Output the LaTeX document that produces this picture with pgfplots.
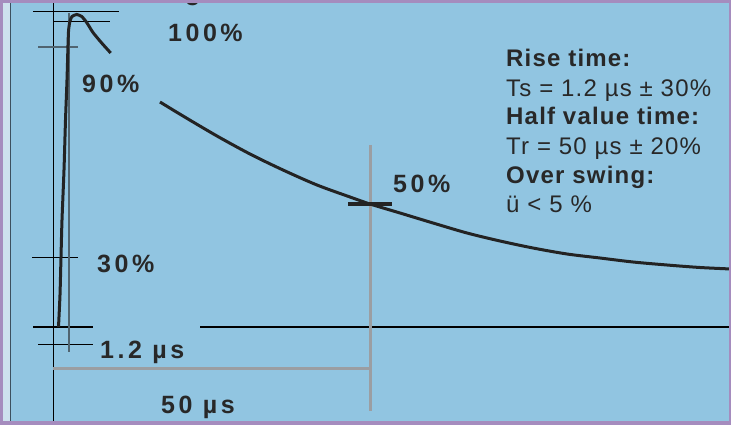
\documentclass[border=0pt]{standalone}
\usepackage{fontspec}
\setmainfont{Liberation Sans}
\newfontfamily\lblfont[LetterSpace=14]{Liberation Sans}
\newfontfamily\txtfont[LetterSpace=5]{Liberation Sans}
\usepackage{pgfplots}
\pgfplotsset{compat=1.18}
\definecolor{bgblue}{RGB}{145,197,225}
\definecolor{frame}{RGB}{165,140,190}
\definecolor{strip}{RGB}{205,225,238}
\definecolor{stripline}{RGB}{60,80,95}
\definecolor{ink}{RGB}{35,35,35}
\definecolor{txt}{RGB}{40,40,40}
\definecolor{slate}{RGB}{80,100,112}
\definecolor{lgray}{RGB}{155,158,162}
\begin{document}
\begin{tikzpicture}
\begin{axis}[at={(0,0)}, anchor=south west, width=731pt, height=425pt, scale only axis,
  xmin=0, xmax=731, ymin=0, ymax=425, y dir=reverse, hide axis, clip=false]
% background
\fill[bgblue] (axis cs:0,0) rectangle (axis cs:731,425);
\fill[strip] (axis cs:3.3,0) rectangle (axis cs:10.2,425);
\addplot[stripline, line width=1pt] coordinates {(10.7,0) (10.7,425)};
% partial letter at top
\node[anchor=base west, inner sep=0, text=txt, font=\bfseries\fontsize{25}{30}\selectfont] at (axis cs:185,1) {g};
% reference lines
\addplot[black, line width=1pt] coordinates {(53,3) (53,421)};
\addplot[black, line width=1pt] coordinates {(33,12) (119,12)};
\addplot[black, line width=1pt] coordinates {(54,22) (110,22)};
\addplot[slate, line width=1.2pt] coordinates {(38,47) (78,47)};
\addplot[black, line width=1pt] coordinates {(32,257) (78,257)};
\addplot[black, line width=2.2pt] coordinates {(33,327) (93,327)};
\addplot[black, line width=1pt] coordinates {(38,344) (93,344)};
\addplot[black, line width=1.5pt] coordinates {(200,327) (731,327)};
\addplot[slate, line width=1.2pt] coordinates {(69,13) (69,352)};
\addplot[lgray, line width=3pt] coordinates {(53,368) (370,368)};
\addplot[lgray, line width=3pt] coordinates {(370,145) (370,411)};
% waveform: rise and peak
\addplot[ink, line width=3pt, smooth, tension=0.4] coordinates {
(58.5,327) (60,295) (61,257) (62,220) (64,170) (65.5,120) (67,80) (68,45) (68.6,30)
(70,21) (72,16.5) (76.7,14.5) (81.7,16.5) (86.7,22.5) (93,32.5) (101.7,43) (110.7,53)};
% waveform: tail
\addplot[ink, line width=3pt, smooth, tension=0.5] coordinates {
(160,102) (183,116) (217,136) (250,154) (283,170) (317,185) (350,197) (370,204)
(400,213) (433,223) (467,233) (500,241) (533,248) (567,254) (600,258) (633,262)
(667,265) (700,267.5) (731,269)};
% 50% marker
\addplot[ink, line width=4pt] coordinates {(348,204) (392,204)};
% labels
\node[anchor=base west, inner sep=0, text=txt, font=\lblfont\bfseries\fontsize{25}{30}\selectfont] at (axis cs:168,42) {100\%};
\node[anchor=base west, inner sep=0, text=txt, font=\lblfont\bfseries\fontsize{25}{30}\selectfont] at (axis cs:82,93) {90\%};
\node[anchor=base west, inner sep=0, text=txt, font=\lblfont\bfseries\fontsize{25}{30}\selectfont] at (axis cs:97,272) {30\%};
\node[anchor=base west, inner sep=0, text=txt, font=\lblfont\bfseries\fontsize{25}{30}\selectfont] at (axis cs:100,358) {1.2 µs};
\node[anchor=base west, inner sep=0, text=txt, font=\lblfont\bfseries\fontsize{25}{30}\selectfont] at (axis cs:161,413) {50 µs};
\node[anchor=base west, inner sep=0, text=txt, font=\lblfont\bfseries\fontsize{25}{30}\selectfont] at (axis cs:393,193) {50\%};
% right text block
\node[anchor=base west, inner sep=0, text=txt, font=\txtfont\bfseries\fontsize{24}{28}\selectfont] at (axis cs:506,67) {Rise time:};
\node[anchor=base west, inner sep=0, text=txt, font=\txtfont\fontsize{24}{28}\selectfont] at (axis cs:506,96.5) {Ts = 1.2 µs ± 30\%};
\node[anchor=base west, inner sep=0, text=txt, font=\txtfont\bfseries\fontsize{24}{28}\selectfont] at (axis cs:506,125) {Half value time:};
\node[anchor=base west, inner sep=0, text=txt, font=\txtfont\fontsize{24}{28}\selectfont] at (axis cs:506,154) {Tr = 50 µs ± 20\%};
\node[anchor=base west, inner sep=0, text=txt, font=\txtfont\bfseries\fontsize{24}{28}\selectfont] at (axis cs:506,183) {Over swing:};
\node[anchor=base west, inner sep=0, text=txt, font=\txtfont\fontsize{24}{28}\selectfont] at (axis cs:506,212) {ü < 5 \%};
% frame
\fill[frame] (axis cs:0,0) rectangle (axis cs:731,3);
\fill[frame] (axis cs:0,421) rectangle (axis cs:731,425);
\fill[frame] (axis cs:0,0) rectangle (axis cs:3.3,425);
\fill[frame] (axis cs:729,0) rectangle (axis cs:731,425);
\end{axis}
\pgfresetboundingbox
\path[use as bounding box] (0,0) rectangle (731pt,425pt);
\end{tikzpicture}
\end{document}
